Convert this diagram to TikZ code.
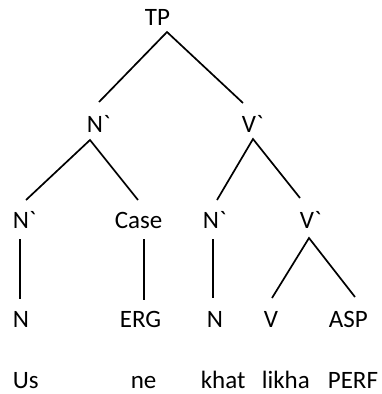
\documentclass[tikz,border=0pt]{standalone}
\usepackage{fontspec}
\setmainfont{Carlito}[Ligatures=TeXOff]
\begin{document}
\begin{tikzpicture}[x=1pt,y=-1pt,line width=1.7pt,
	lbl/.style={anchor=base west,inner sep=0pt,text height=16pt,text depth=0pt,
		font=\fontsize{25}{30}\selectfont}]
	\useasboundingbox (0,0) rectangle (382,394);
	% labels
	\node[lbl] (tp) at (144,25) {TP};
	\node[lbl] (nb) at (86,132) {N`};
	\node[lbl] (vb) at (241,132) {V`};
	\node[lbl] (nbl) at (12,228) {N`};
	\node[lbl] (cas) at (114,228) {Case};
	\node[lbl] (nbm) at (202,228) {N`};
	\node[lbl] (vbr) at (299,228) {V`};
	\node[lbl] (nl) at (12,327) {N};
	\node[lbl] (erg) at (119,327) {ERG};
	\node[lbl] (nm) at (206,327) {N};
	\node[lbl] (v) at (263,327) {V};
	\node[lbl] (asp) at (328,327) {ASP};
	% glosses
	\node[lbl] (us) at (12,388) {Us};
	\node[lbl] (ne) at (130,388) {ne};
	\node[lbl] (khat) at (200,388) {khat};
	\node[lbl] (likha) at (261,388) {likha};
	\node[lbl] (perf) at (327,388) {PERF};
	% branches
	\draw ([shift={(13,-30)}]nb.base west) -- ([shift={(23,7)}]tp.base west) -- ([shift={(2,-29)}]vb.base west);
	\draw ([shift={(14,-28)}]nbl.base west) -- ([shift={(4,8)}]nb.base west) -- ([shift={(24,-28)}]cas.base west);
	\draw ([shift={(15,-28)}]nbm.base west) -- ([shift={(12,7)}]vb.base west) -- ([shift={(1,-30)}]vbr.base west);
	\draw ([shift={(9,-29)}]v.base west) -- ([shift={(10,10)}]vbr.base west) -- ([shift={(27,-30)}]asp.base west);
	\draw ([shift={(8,11)}]nbl.base west) -- ([shift={(8,-28)}]nl.base west);
	\draw ([shift={(30,11)}]cas.base west) -- ([shift={(25,-27)}]erg.base west);
	\draw ([shift={(11,11)}]nbm.base west) -- ([shift={(7,-29)}]nm.base west);
\end{tikzpicture}
\end{document}
